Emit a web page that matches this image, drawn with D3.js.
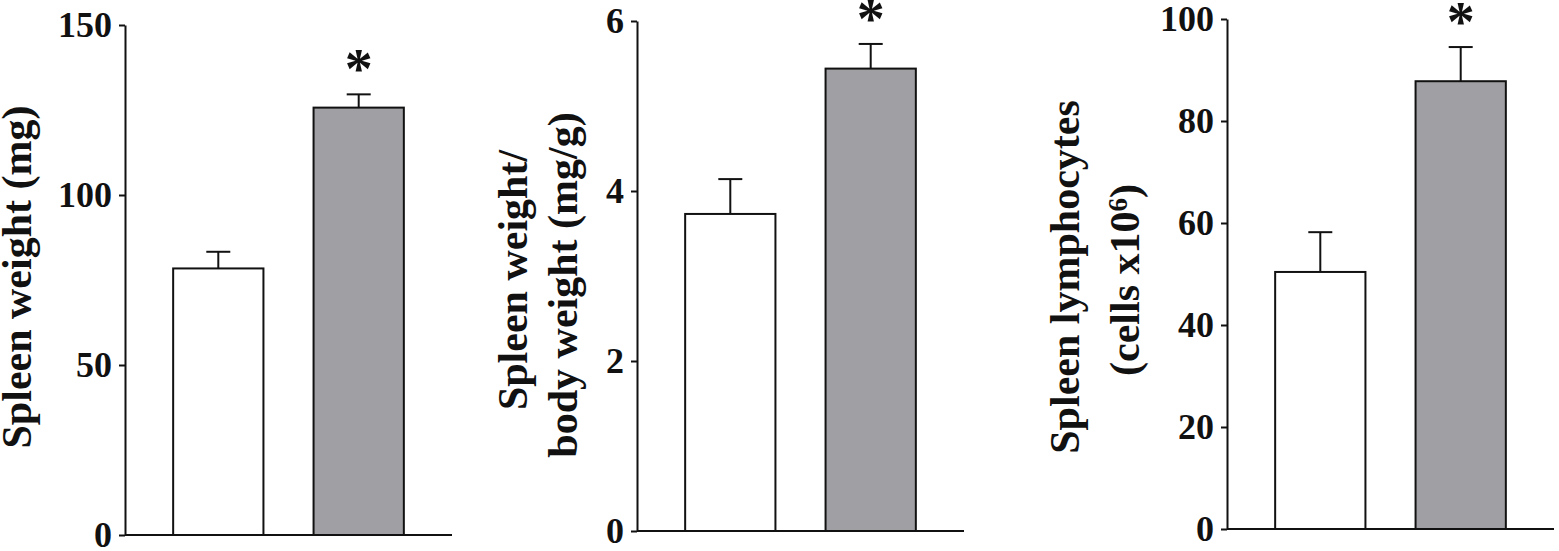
<!DOCTYPE html>
<html>
<meta charset="utf-8">
<head>
<script src="https://cdn.jsdelivr.net/npm/d3@7"></script>
<style>
  body { margin: 0; background: #fff; }
  text { font-family: "Liberation Serif", "Times New Roman", serif; font-weight: bold; fill: #111; }
</style>
</head>
<body>
<div id="chart"></div>
<script>

var groups = ["control", "treated"];
var fills = ["#ffffff", "#a0a0a4"];

// panel 1: spleen weight (mg)
var weightMean = [78.4, 125.7];
var weightErr = [4.9, 3.9];
var weightTicks = [0, 50, 100, 150];

// panel 2: spleen weight / body weight (mg/g)
var ratioMean = [3.73, 5.44];
var ratioErr = [0.41, 0.29];
var ratioTicks = [0, 2, 4, 6];

// panel 3: spleen lymphocytes (cells x10^6)
var cellsMean = [50.4, 87.8];
var cellsErr = [7.8, 6.7];
var cellsTicks = [0, 20, 40, 60, 80, 100];

// which groups are marked significant
var signif = [false, true];

var W = 1559, H = 551;
var svg = d3.select("#chart").append("svg")
    .attr("width", W).attr("height", H);

var panels = [
    { mean: weightMean, err: weightErr, ticks: weightTicks, max: 150,
      ax: 125, top: 25, bottom: 535,
      label: [["Spleen weight (mg)"]], lx: [31], ly: [277] },
    { mean: ratioMean, err: ratioErr, ticks: ratioTicks, max: 6,
      ax: 637, top: 21, bottom: 531,
      label: [["Spleen weight/"], ["body weight (mg/g)"]], lx: [527, 577], ly: [280, 285] },
    { mean: cellsMean, err: cellsErr, ticks: cellsTicks, max: 100,
      ax: 1227, top: 19, bottom: 529,
      label: [["Spleen lymphocytes"], ["(cells x10", "6", ")"]], lx: [1079, 1139], ly: [277, 280] }
];

panels.forEach(function(p) {
    var g = svg.append("g");

    var y = d3.scaleLinear().domain([0, p.max]).range([p.bottom, p.top]);
    var x = d3.scaleBand().domain(groups)
        .range([p.ax, p.ax + 327])
        .paddingInner(0.357).paddingOuter(0.343);

    // bars
    g.selectAll("rect.bar")
        .data(groups)
        .enter().append("rect")
        .attr("class", "bar")
        .attr("x", function(d) { return x(d); })
        .attr("width", x.bandwidth())
        .attr("y", function(d, i) { return y(p.mean[i]); })
        .attr("height", function(d, i) { return y(0) - y(p.mean[i]); })
        .attr("fill", function(d, i) { return fills[i]; })
        .attr("stroke", "#111")
        .attr("stroke-width", 2);

    // error bars (upper only)
    g.selectAll("line.err")
        .data(groups)
        .enter().append("line")
        .attr("class", "err")
        .attr("x1", function(d) { return x(d) + x.bandwidth() / 2; })
        .attr("x2", function(d) { return x(d) + x.bandwidth() / 2; })
        .attr("y1", function(d, i) { return y(p.mean[i]); })
        .attr("y2", function(d, i) { return y(p.mean[i] + p.err[i]); })
        .attr("stroke", "#111").attr("stroke-width", 2);

    g.selectAll("line.cap")
        .data(groups)
        .enter().append("line")
        .attr("class", "cap")
        .attr("x1", function(d) { return x(d) + x.bandwidth() / 2 - 12; })
        .attr("x2", function(d) { return x(d) + x.bandwidth() / 2 + 12; })
        .attr("y1", function(d, i) { return y(p.mean[i] + p.err[i]); })
        .attr("y2", function(d, i) { return y(p.mean[i] + p.err[i]); })
        .attr("stroke", "#111").attr("stroke-width", 2);

    // asterisks
    g.selectAll("text.star")
        .data(groups.filter(function(d, i) { return signif[i]; }))
        .enter().append("text")
        .attr("class", "star")
        .attr("x", function(d) { return x(d) + x.bandwidth() / 2; })
        .attr("y", function(d) {
            var i = groups.indexOf(d);
            return y(p.mean[i] + p.err[i]) - 6;
        })
        .attr("text-anchor", "middle")
        .style("font-size", "56px")
        .text("*");

    // y axis
    var yAxis = d3.axisLeft(y)
        .tickValues(p.ticks)
        .tickFormat(d3.format("d"))
        .tickSize(6)
        .tickSizeOuter(0)
        .tickPadding(7);

    var ya = g.append("g")
        .attr("transform", "translate(" + p.ax + ",0)")
        .call(yAxis);
    ya.select(".domain").attr("stroke", "#111").attr("stroke-width", 2);
    ya.selectAll(".tick line").attr("stroke", "#111").attr("stroke-width", 2);
    ya.selectAll(".tick text")
        .style("font-family", "'Liberation Serif', serif")
        .style("font-weight", "bold")
        .style("font-size", "36px")
        .attr("fill", "#111");

    // x axis baseline
    g.append("line")
        .attr("x1", p.ax).attr("x2", p.ax + 327)
        .attr("y1", y(0)).attr("y2", y(0))
        .attr("stroke", "#111").attr("stroke-width", 2);

    // y axis title
    p.label.forEach(function(parts, k) {
        var t = g.append("text")
            .attr("transform", "translate(" + p.lx[k] + "," + p.ly[k] + ") rotate(-90)")
            .attr("text-anchor", "middle")
            .style("font-size", "42px");
        t.append("tspan").text(parts[0]);
        if (parts.length > 1) {
            t.append("tspan").attr("dy", "-0.45em").style("font-size", "27px").text(parts[1]);
            t.append("tspan").attr("dy", "0.3em").text(parts[2]);
        }
    });
});

</script>
</body>
</html>
